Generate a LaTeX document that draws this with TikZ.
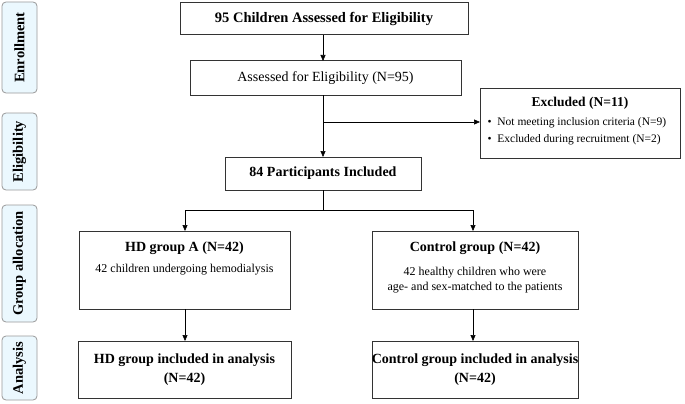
\documentclass[tikz,border=0pt]{standalone}
\usepackage{fontspec}
\setmainfont{Liberation Serif}
\usetikzlibrary{arrows.meta,positioning}

\begin{document}
\begin{tikzpicture}[x=1pt,y=-1pt,>={Triangle[length=6pt,width=5pt]},semithick]
  \tikzstyle{stage}=[draw=gray!80,fill=cyan!8,rounded corners=4pt,line width=0.8pt]
  \tikzstyle{box}=[draw=black!80,line width=1pt,fill=white]
  \tikzstyle{stagetext}=[rotate=90,font=\bfseries\fontsize{14.5}{16}\selectfont]
  \useasboundingbox (0,0) rectangle (685,404);

  % stage labels
  \draw[stage] (2,2) rectangle (37,93);
  \node[stagetext] (enr) at (19.5,47.5) {Enrollment};
  \draw[stage] (2,113) rectangle (37,190);
  \node[stagetext] (eli) at (19.5,151.5) {Eligibility};
  \draw[stage] (2,205) rectangle (37,322);
  \node[stagetext] (alloc) at (19.5,263.5) {Group allocation};
  \draw[stage] (2,336) rectangle (37,400);
  \node[stagetext] (ana) at (19.5,368) {Analysis};

  % boxes
  \draw[box] (180,3) rectangle (468,35);
  \node[font=\bfseries\fontsize{14.5}{16}\selectfont] (top) at (324,19) {95 Children Assessed for Eligibility};
  \draw[box] (190,61) rectangle (461,95);
  \node[font=\fontsize{14}{16}\selectfont] (assess) at (325.5,78) {Assessed for Eligibility (N=95)};
  \draw[box] (480,88) rectangle (680,158);
  \node[font=\bfseries\fontsize{13.5}{15}\selectfont] (exc) at (580,103) {Excluded (N=11)};
  \node[font=\fontsize{11.5}{13}\selectfont,align=left,anchor=north west] (excl) at (484,114)
    {\textbullet\enspace Not meeting inclusion criteria (N=9)\\[4pt]\textbullet\enspace Excluded during recruitment (N=2)};
  \draw[box] (225,157) rectangle (421,190);
  \node[font=\bfseries\fontsize{14}{16}\selectfont] (incl) at (323,173.5) {84 Participants Included};

  \draw[box] (79,231) rectangle (290,309);
  \node[font=\bfseries\fontsize{14}{16}\selectfont] (hd) at (184.5,248) {HD group A (N=42)};
  \node[font=\fontsize{12}{14}\selectfont] (hdt) at (184.5,270) {42 children undergoing hemodialysis};
  \draw[box] (372,231) rectangle (578,309);
  \node[font=\bfseries\fontsize{14}{16}\selectfont] (ctl) at (475,248) {Control group (N=42)};
  \node[font=\fontsize{12}{15}\selectfont,align=center] (ctlt) at (475,280) {42 healthy children who were\\age- and sex-matched to the patients};

  \draw[box] (78,341) rectangle (291,398);
  \node[font=\bfseries\fontsize{14}{16}\selectfont,align=center] (hda) at (184.5,369.5) {HD group included in analysis\\[3pt](N=42)};
  \draw[box] (372,341) rectangle (578,398);
  \node[font=\bfseries\fontsize{14}{16}\selectfont,align=center] (ctla) at (475,369.5) {Control group included in analysis\\[3pt](N=42)};

  % connectors
  \coordinate (b1) at (323,122);
  \coordinate (s) at (323,210);
  \coordinate (sl) at (185,210);
  \coordinate (sr) at (473,210);
  \draw[->] (323,35) -- (323,61);
  \draw[->] (323,95) -- (323,157);
  \draw[->] (b1) -- (480,122);
  \draw (323,190) -- (s);
  \draw[->] (sl) -- (sr) -- (473,231);
  \draw[->] (s) -- (sl) -- (185,231);
  \draw[->] (185,309) -- (185,341);
  \draw[->] (473,309) -- (473,341);
\end{tikzpicture}
\end{document}
